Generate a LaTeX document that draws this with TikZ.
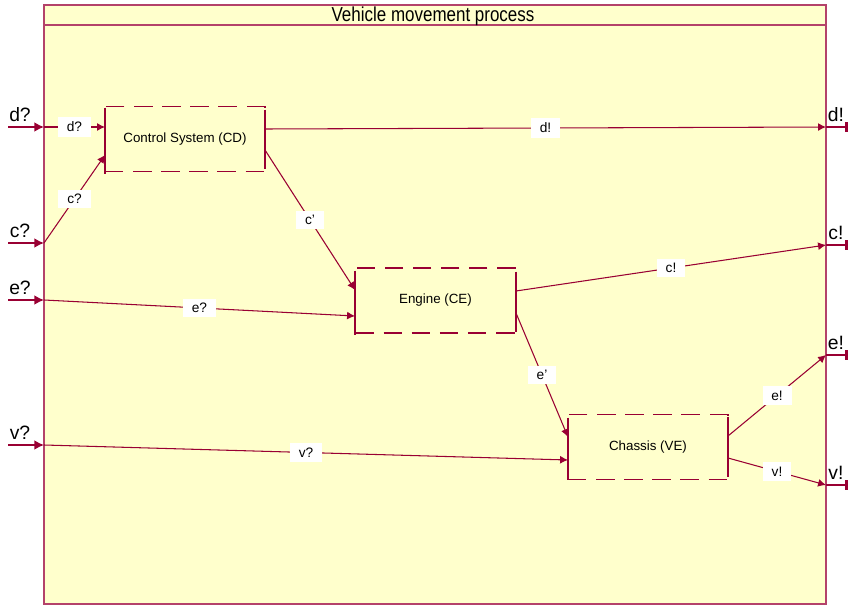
\documentclass[tikz,border=0pt]{standalone}
\usepackage{fontspec}
\setmainfont{Liberation Sans}
\newfontfamily\stretto[FakeStretch=0.84]{Liberation Sans}
\usetikzlibrary{arrows.meta,positioning}
\definecolor{bordo}{HTML}{990033}
\definecolor{cornice}{HTML}{B4426A}
\definecolor{giallo}{HTML}{FFFFCC}
\begin{document}
\begin{tikzpicture}[
		x=0.02cm, y=-0.02cm, line width=0.6pt,
		blocco/.style={draw=bordo, line width=0.8pt,
			dash pattern=on 10.5pt off 5.5pt,
			minimum width=3.2cm, minimum height=1.3cm,
			inner sep=0pt, font=\fontsize{7.6}{9}\selectfont},
		tacca/.style={draw=bordo, line width=0.8pt},
		flusso/.style={draw=bordo, line width=0.6pt,
			-{Latex[length=4.5pt,width=4.5pt]}},
		ingresso/.style={draw=bordo, line width=0.8pt,
			-{Latex[length=5.5pt,width=5.5pt]}},
		fine/.style={draw=bordo, line width=0.8pt,
			-{Rectangle[length=1.6pt,width=5.5pt]}},
		etich/.style={fill=white, inner xsep=5pt, inner ysep=2.6pt,
			font=\fontsize{7.8}{9}\selectfont},
		porta/.style={font=\fontsize{11}{12}\selectfont, inner sep=0pt}]
	
	%% cornice del processo
	\useasboundingbox (0,0) rectangle (850,605);
	\draw[cornice, fill=giallo, line width=0.8pt] (44,5) rectangle (826,604);
	\draw[cornice, line width=0.8pt] (44,25) -- (826,25);
	\node[font=\stretto\fontsize{11.5}{13}\selectfont] (titolo) at (433,16) {Vehicle movement process};
	
	%% blocchi tratteggiati
	\node[blocco] (CD) at (185,139) {Control System (CD)};
	\node[blocco] (CE) at (435.5,300.5) {Engine (CE)};
	\node[blocco] (VE) at (648,447) {Chassis (VE)};
	
	%% porte dei blocchi
	\coordinate (CDi1) at (105,127);  \coordinate (CDi2) at (105,155);
	\coordinate (CDo1) at (265,129);  \coordinate (CDo2) at (265,150);
	\coordinate (CEi1) at (355,290);  \coordinate (CEi2) at (355,316);
	\coordinate (CEo1) at (516,291);  \coordinate (CEo2) at (516,313);
	\coordinate (VEi1) at (568,437);  \coordinate (VEi2) at (568,460);
	\coordinate (VEo1) at (728,436);  \coordinate (VEo2) at (728,458);
	\foreach \p in {CDi1,CDi2,CDo1,CDo2,CEi1,CEi2,CEo1,CEo2,VEi1,VEi2,VEo1,VEo2}
		\draw[tacca] ([yshift=11]\p) -- ([yshift=-11]\p);
	
	%% porte sulla cornice: ingressi a sinistra, uscite a destra
	\foreach \n/\y in {d/127,c/243,e/300,v/445}{
		\coordinate (L\n) at (44,\y);
		\coordinate (Lx\n) at (8,\y);
		\draw[ingresso] (Lx\n) -- (L\n);
		\node[porta] (pL\n) at (20,\y-12) {\n?};
	}
	\foreach \n/\y in {d/127,c/245,e/355,v/485}{
		\coordinate (R\n) at (826,\y);
		\coordinate (Rx\n) at (848,\y);
		\draw[fine] (R\n) -- (Rx\n);
		\node[porta] (pR\n) at (836,\y-12) {\n!};
	}
	
	%% collegamenti interni
	\draw[flusso] (Ld) -- node[etich] (ld) {d?} (CDi1);
	\draw[flusso] (Lc) -- node[etich] (lc) {c?} (CDi2);
	\draw[flusso] (CDo1) -- node[etich] (rd) {d!} (Rd);
	\draw[flusso] (CDo2) -- node[etich] (cc) {c'} (CEi1);
	\draw[flusso] (Le) -- node[etich] (le) {e?} (CEi2);
	\draw[flusso] (CEo1) -- node[etich] (rc) {c!} (Rc);
	\draw[flusso] (CEo2) -- node[etich] (ee) {e'} (VEi1);
	\draw[flusso] (Lv) -- node[etich] (lv) {v?} (VEi2);
	\draw[flusso] (VEo1) -- node[etich] (re) {e!} (Re);
	\draw[flusso] (VEo2) -- node[etich] (rv) {v!} (Rv);
	
\end{tikzpicture}
\end{document}
